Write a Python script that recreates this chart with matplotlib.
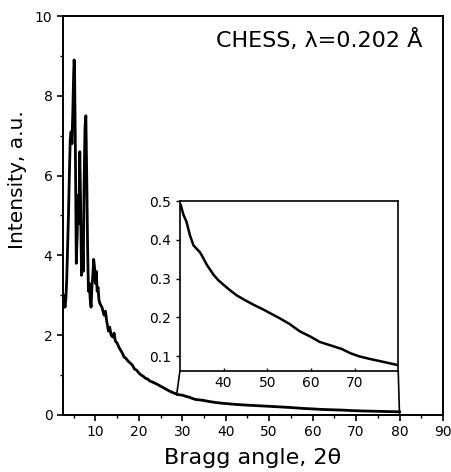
import matplotlib
matplotlib.use("Agg")
import matplotlib.pyplot as plt
from matplotlib.patches import ConnectionPatch
from matplotlib.ticker import MultipleLocator

plt.rcParams['font.family'] = ['DejaVu Sans']

# Bragg angle (2theta) and intensity
angle = [2.6, 2.8, 3.0, 3.2, 3.4, 3.6, 3.8, 4.0, 4.2, 4.4, 4.6, 4.8, 5.0, 5.1, 5.2,
         5.4, 5.6, 5.8, 6.0, 6.2, 6.4, 6.6, 6.8, 7.0, 7.2, 7.4, 7.6, 7.8, 8.0, 8.2,
         8.4, 8.6, 8.8, 9.0, 9.2, 9.4, 9.6, 9.8, 10.0, 10.2, 10.4, 10.6, 10.8, 11.0,
         11.5, 12.0, 12.3, 12.6, 13.0, 13.3, 13.6, 14.0, 14.3, 14.6, 15.0, 15.4,
         15.8, 16.2, 16.6, 17.0, 17.5, 18.0, 18.5, 19.0, 19.5, 20.0, 20.5, 21.0,
         21.5, 22.0, 22.5, 23.0, 24.0, 25.0, 26.0, 27.0, 28.0, 29.0, 30.2, 30.8,
         31.5, 32.3, 33.1, 34.0, 34.6, 35.4, 36.2, 37.0, 37.7, 38.8, 40.0, 41.5,
         43.0, 45.0, 47.0, 49.0, 51.0, 53.0, 55.0, 57.5, 60.0, 62.0, 64.5, 67.0,
         69.0, 71.0, 73.5, 76.0, 78.0, 80.0]
intensity = [3.0, 2.9, 2.7, 2.9, 3.4, 4.2, 5.0, 6.0, 6.9, 7.1, 6.8, 7.6, 8.6, 8.9, 8.7,
             6.5, 3.8, 4.5, 5.5, 4.8, 6.6, 5.2, 3.5, 4.4, 3.6, 5.8, 7.2, 7.5, 6.0, 4.2,
             3.1, 3.3, 2.9, 2.7, 3.2, 3.5, 3.9, 3.7, 3.3, 3.6, 3.1, 3.2, 2.9, 2.8,
             2.7, 2.5, 2.6, 2.35, 2.1, 2.2, 2.0, 1.95, 2.05, 1.85, 1.8, 1.7,
             1.62, 1.55, 1.45, 1.42, 1.35, 1.3, 1.25, 1.15, 1.12, 1.05, 1.0, 0.97,
             0.92, 0.9, 0.85, 0.83, 0.78, 0.72, 0.66, 0.6, 0.55, 0.51, 0.49, 0.465,
             0.447, 0.412, 0.386, 0.375, 0.368, 0.352, 0.335, 0.322, 0.31, 0.296, 0.284, 0.27,
             0.257, 0.244, 0.232, 0.221, 0.209, 0.197, 0.184, 0.164, 0.15, 0.137, 0.128, 0.119,
             0.108, 0.1, 0.093, 0.087, 0.082, 0.077]

main_xticks = [10, 20, 30, 40, 50, 60, 70, 80, 90]
main_yticks = [0, 2, 4, 6, 8, 10]
inset_xticks = [40, 50, 60, 70]
inset_yticks = [0.1, 0.2, 0.3, 0.4, 0.5]
title = "CHESS, \u03bb=0.202 \u00c5"

fig = plt.figure(figsize=(4.52, 4.72), dpi=100)
ax = fig.add_axes([0.139, 0.121, 0.841, 0.845])
ax.plot(angle, intensity, color='black', lw=2.0)
ax.set_xlim(2.5, 90)
ax.set_ylim(0, 10)
ax.set_xticks(main_xticks)
ax.set_yticks(main_yticks)
ax.xaxis.set_minor_locator(MultipleLocator(5))
ax.yaxis.set_minor_locator(MultipleLocator(1))
ax.tick_params(which='major', direction='out', length=4, width=1.2, labelsize=10)
ax.tick_params(which='minor', direction='out', length=2.5, width=1)
ax.set_xlabel("Bragg angle, 2\u03b8", fontsize=16)
ax.xaxis.set_label_coords(0.5, -0.082)
ax.set_ylabel("Intensity, a.u.", fontsize=14.5)
ax.yaxis.set_label_coords(-0.095, 0.59)
for s in ax.spines.values():
    s.set_linewidth(1.4)
ax.text(0.947, 0.94, title, transform=ax.transAxes, ha='right', va='center', fontsize=16)

ins = fig.add_axes([0.398, 0.214, 0.483, 0.360])
ins.plot(angle, intensity, color='black', lw=1.8)
ins.set_xlim(30, 80)
ins.set_ylim(0.062, 0.5)
ins.set_xticks(inset_xticks)
ins.set_yticks(inset_yticks)
ins.tick_params(axis='y', direction='out', length=3, width=1, labelsize=10)
ins.tick_params(axis='x', direction='in', length=2, width=1, labelsize=10)
for s in ins.spines.values():
    s.set_linewidth(1.2)

# lines joining the inset corners to the main curve
for xy_ins, xy_main in [((30, 0.062), (28.7, 0.5)), ((80, 0.062), (80, 0.0))]:
    con = ConnectionPatch(xyA=xy_ins, coordsA=ins.transData, xyB=xy_main,
                          coordsB=ax.transData, color='black', lw=1.2)
    fig.add_artist(con)

fig.savefig("out.png", dpi=100, facecolor='white')
